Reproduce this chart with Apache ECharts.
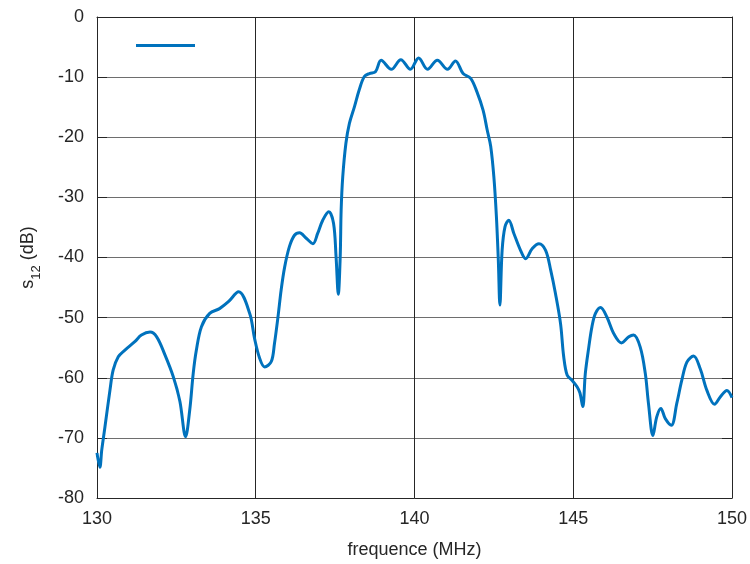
<!DOCTYPE html>
<html>
<head>
<meta charset="utf-8">
<script src="https://cdn.jsdelivr.net/npm/echarts@6/dist/echarts.min.js"></script>
<style>html,body{margin:0;padding:0;background:#fff;overflow:hidden}#c{width:750px;height:564px}</style>
</head>
<body>
<div id="c"></div>
<script>
var freq = [130.00,130.09,130.15,130.25,130.41,130.51,130.67,130.88,131.19,131.40,131.67,131.88,132.14,132.40,132.61,132.79,132.92,133.03,133.13,133.29,133.55,133.86,134.13,134.46,134.81,134.96,135.12,135.28,135.49,135.59,135.70,135.80,135.91,136.06,136.22,136.38,136.59,136.80,136.95,137.11,137.30,137.45,137.53,137.60,137.66,137.69,137.74,137.84,137.95,138.11,138.26,138.42,138.58,138.77,138.95,139.27,139.57,139.87,140.13,140.41,140.72,141.04,141.29,141.53,141.77,141.97,142.16,142.29,142.40,142.50,142.58,142.64,142.69,142.76,142.85,142.97,143.13,143.34,143.50,143.71,143.92,144.13,144.29,144.44,144.60,144.70,144.81,144.96,145.12,145.21,145.30,145.38,145.49,145.59,145.70,145.86,146.06,146.27,146.52,146.75,146.90,147.11,147.27,147.37,147.51,147.63,147.76,147.90,148.09,148.26,148.42,148.58,148.79,149.00,149.21,149.45,149.63,149.84,150.00];
var s12 = [-72.5,-74.9,-72,-68.2,-62,-58.7,-56.5,-55.4,-54,-52.9,-52.4,-53.2,-56.2,-59.8,-63.9,-69.8,-65.4,-59.3,-55.4,-51.5,-49.3,-48.5,-47.4,-45.7,-49.3,-53.4,-56.7,-58.2,-57.3,-54.3,-49.9,-45.4,-41.6,-38.2,-36.3,-35.9,-36.8,-37.7,-36,-33.8,-32.4,-34.3,-39.9,-46.1,-39.9,-32.1,-26.6,-21,-17.7,-14.9,-12.1,-9.9,-9.4,-9.1,-7.2,-8.7,-7.1,-8.7,-6.8,-8.7,-7.2,-8.7,-7.3,-9.4,-10.2,-12.5,-15.5,-18.8,-21.5,-26.6,-33.2,-40.4,-47.9,-38.8,-34.9,-33.8,-36,-38.8,-40.2,-38.5,-37.7,-38.8,-42.1,-46,-51,-56.5,-59.6,-60.4,-61.5,-62.5,-64.8,-59.3,-54.9,-51.5,-49.3,-48.3,-49.9,-52.6,-54.2,-53.2,-52.9,-54.9,-59.3,-64.3,-69.6,-66.5,-65.1,-66.8,-67.9,-64.3,-60.4,-57.4,-56.4,-58.5,-62.1,-64.4,-63.2,-62.1,-63.3];
var xTicks = [130,135,140,145,150];
var yTicks = [0,-10,-20,-30,-40,-50,-60,-70,-80];

var data = freq.map(function(f,i){return [f,s12[i]];});
var font = '"Liberation Sans", Arial, sans-serif';
var txt = '#262626';
var chart = echarts.init(document.getElementById('c'), null, {renderer:'canvas', width:750, height:564});
chart.setOption({
  animation:false,
  backgroundColor:'#fff',
  grid:{left:97,right:16,top:17,bottom:66,containLabel:false},
  legend:{show:true,left:136,top:44,icon:'rect',itemWidth:59,itemHeight:3,formatter:function(){return '';},itemGap:0,padding:0,data:[' ']},
  xAxis:[{
    type:'value',min:130,max:150,interval:5,position:'bottom',
    name:'frequence (MHz)',nameLocation:'middle',nameGap:43,
    nameTextStyle:{fontFamily:font,fontSize:18,color:txt},
    axisLine:{show:true,onZero:false,lineStyle:{color:txt,width:1}},
    axisTick:{show:true,inside:true,length:10,lineStyle:{color:txt}},
    axisLabel:{fontFamily:font,fontSize:18,color:txt,margin:12,formatter:function(v){return String(v);}},
    splitLine:{show:true,lineStyle:{color:txt,width:1}}
  },{
    type:'value',min:130,max:150,interval:5,position:'top',
    axisLine:{show:true,onZero:false,lineStyle:{color:txt,width:1}},
    axisTick:{show:true,inside:true,length:10,lineStyle:{color:txt}},
    axisLabel:{show:false},splitLine:{show:false}
  }],
  yAxis:[{
    type:'value',min:-80,max:0,interval:10,position:'left',
    name:'{s|s}{sub|12}{s| (dB)}',nameLocation:'middle',nameGap:60,nameRotate:90,
    nameTextStyle:{rich:{s:{fontFamily:font,fontSize:18,color:txt},sub:{fontFamily:font,fontSize:13,color:txt,verticalAlign:'bottom',padding:[0,0,-6,0]}}},
    axisLine:{show:true,onZero:false,lineStyle:{color:txt,width:1}},
    axisTick:{show:true,inside:true,length:10,lineStyle:{color:txt}},
    axisLabel:{fontFamily:font,fontSize:18,color:txt,margin:13},
    splitLine:{show:true,lineStyle:{color:'#6e6e6e',width:1}}
  },{
    type:'value',min:-80,max:0,interval:10,position:'right',
    axisLine:{show:true,onZero:false,lineStyle:{color:txt,width:1}},
    axisTick:{show:true,inside:true,length:10,lineStyle:{color:txt}},
    axisLabel:{show:false},splitLine:{show:false}
  }],
  series:[{
    name:' ',type:'line',data:data,smooth:0.35,showSymbol:false,symbol:'none',
    lineStyle:{color:'#0072BD',width:3},itemStyle:{color:'#0072BD'},
    xAxisIndex:0,yAxisIndex:0,clip:true
  }]
});
</script>
</body>
</html>
